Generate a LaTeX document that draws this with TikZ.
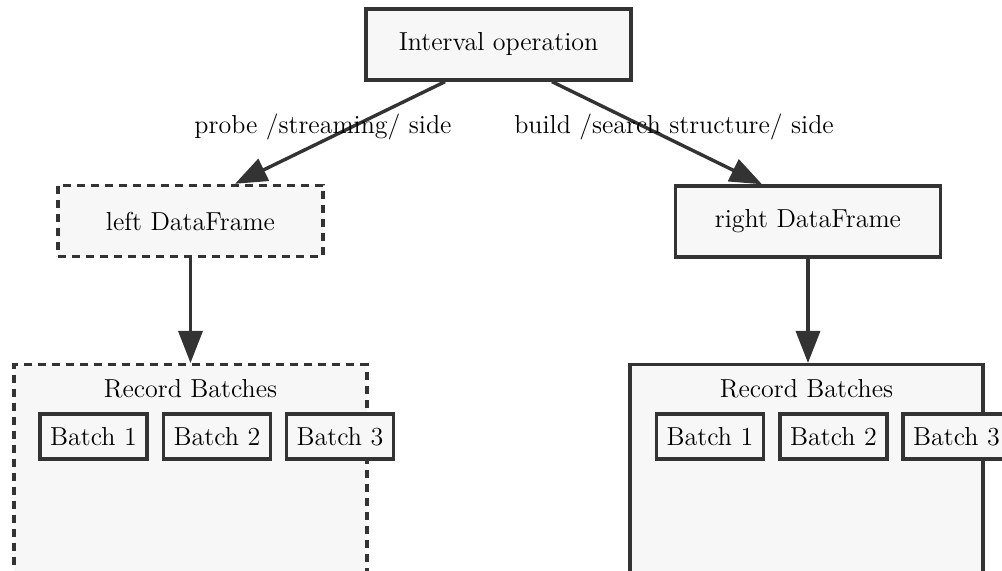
\documentclass[tikz,border=0pt]{standalone}
\usepackage{fontspec}
\usetikzlibrary{arrows.meta}

\definecolor{linegray}{HTML}{333333}
\definecolor{boxfill}{HTML}{F7F7F7}
\newcommand{\diagfont}{\fontsize{13}{15}\selectfont}

\tikzset{
    box/.style={draw=linegray, fill=boxfill, line width=1.7pt, minimum width=132.5pt, minimum height=35.5pt, inner sep=0pt},
    dashedbox/.style={box, dash pattern=on 4pt off 3pt},
    batch/.style={draw=linegray, fill=boxfill, line width=1.7pt, minimum width=53.5pt, minimum height=22.5pt, inner sep=0pt},
    cluster/.style={draw=linegray, fill=boxfill, line width=1.7pt, minimum width=176.5pt, minimum height=160pt, anchor=north, inner sep=0pt},
    link/.style={draw=linegray, line width=1.7pt, -{Triangle[length=16pt,width=12pt]}}
}

\begin{document}
\begin{tikzpicture}[x=0.5pt, y=-0.5pt, font=\diagfont]
    \useasboundingbox (0,0) rectangle (1002,571);
    \clip (0,0) rectangle (1002,571);
    % record batch groups
    \node[cluster, dash pattern=on 4pt off 3pt] (leftrb) at (190.5,363) {};
    \node[cluster] (rightrb) at (806.5,363) {};
    \node (lefttitle) at (190.5,389) {Record Batches};
    \node (righttitle) at (806.5,389) {Record Batches};
    \foreach \i/\x in {1/93.5,2/217,3/340}{
        \node[batch] (lb\i) at (\x,436.5) {Batch \i};
    }
    \foreach \i/\x in {1/710,2/833.5,3/956.5}{
        \node[batch] (rb\i) at (\x,436.5) {Batch \i};
    }
    % operation and the two inputs
    \node[box] (interval) at (498.5,44.5) {Interval operation};
    \node[dashedbox] (leftdf) at (190.5,221) {left DataFrame};
    \node[box] (rightdf) at (808,221.5) {right DataFrame};
    \draw[link] ([xshift=-26.75pt]interval.south) -- node[pos=0.443, xshift=-14.5pt] (probelbl) {probe /streaming/ side} ([xshift=22.25pt]leftdf.north);
    \draw[link] ([xshift=26.75pt]interval.south) -- node[pos=0.443, xshift=14.5pt] (buildlbl) {build /search structure/ side} ([xshift=-23pt]rightdf.north);
    \draw[link] (leftdf.south) -- (leftdf.south |- leftrb.north);
    \draw[link] (rightdf.south) -- (rightdf.south |- rightrb.north);
\end{tikzpicture}
\end{document}
